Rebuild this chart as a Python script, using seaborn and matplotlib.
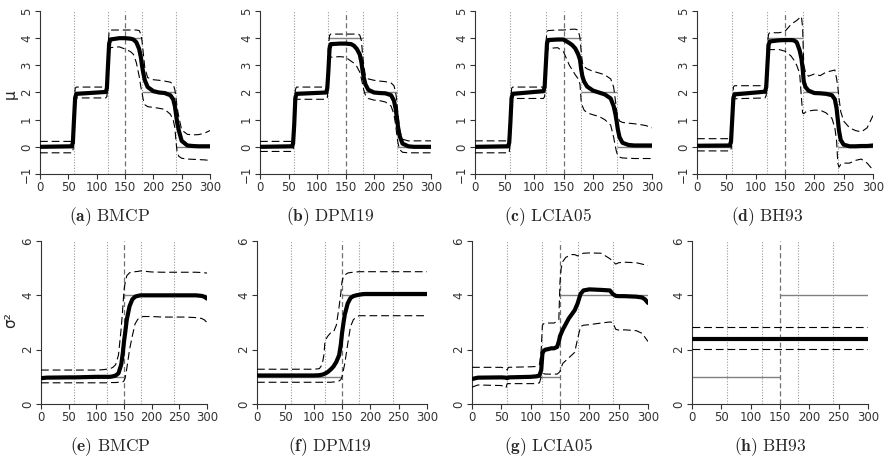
import numpy as np
import pandas as pd
import matplotlib
matplotlib.use("Agg")
import matplotlib.pyplot as plt
import seaborn as sns

# ---------------- data ----------------
MU_X = [0, 56, 58, 60, 62, 64, 116, 118, 120, 122, 124, 140, 150, 160, 165, 170, 175, 178,
        180, 182, 185, 190, 200, 210, 220, 230, 235, 238, 240, 242, 245, 250, 260, 270, 280, 290, 300]

A_EST = [0.0, 0.02, 0.15, 1.0, 1.8, 1.95, 2.02, 2.15, 3.0, 3.8, 3.95, 4.0, 4.0, 3.98, 3.95, 3.85, 3.6, 3.3,
         3.0, 2.75, 2.45, 2.2, 2.05, 2.0, 1.98, 1.9, 1.75, 1.5, 1.2, 0.9, 0.6, 0.22, 0.05, 0.03, 0.02, 0.02, 0.02]
A_HI = [0.2, 0.2, 0.25, 1.4, 2.15, 2.2, 2.2, 2.3, 3.7, 4.25, 4.3, 4.3, 4.3, 4.3, 4.3, 4.3, 4.28, 4.15,
        3.9, 3.5, 2.9, 2.55, 2.47, 2.45, 2.42, 2.38, 2.3, 2.1, 1.8, 1.45, 1.1, 0.62, 0.46, 0.44, 0.45, 0.5, 0.6]
A_LO = [-0.22, -0.22, -0.2, 0.4, 1.75, 1.8, 1.8, 1.85, 2.4, 3.5, 3.65, 3.68, 3.6, 3.5, 3.4, 3.1, 2.6, 2.2,
        2.0, 1.75, 1.55, 1.48, 1.45, 1.42, 1.38, 1.2, 1.0, 0.7, 0.2, -0.2, -0.35, -0.42, -0.45, -0.46, -0.47, -0.48, -0.5]

B_EST = [0.0, 0.02, 0.12, 0.8, 1.8, 1.95, 2.0, 2.15, 2.8, 3.6, 3.78, 3.8, 3.8, 3.78, 3.72, 3.6, 3.4, 3.1,
         2.8, 2.55, 2.3, 2.1, 2.0, 1.98, 1.97, 1.9, 1.7, 1.4, 1.1, 0.75, 0.4, 0.12, 0.02, 0.0, 0.0, 0.0, 0.0]
B_HI = [0.2, 0.2, 0.22, 1.2, 2.1, 2.2, 2.2, 2.3, 3.7, 4.1, 4.15, 4.15, 4.15, 4.15, 4.15, 4.15, 4.12, 3.9,
        3.4, 3.0, 2.6, 2.5, 2.45, 2.42, 2.4, 2.35, 2.25, 2.0, 1.7, 1.2, 0.6, 0.28, 0.22, 0.22, 0.22, 0.22, 0.22]
B_LO = [-0.17, -0.17, -0.15, 0.3, 1.7, 1.75, 1.75, 1.8, 2.3, 3.2, 3.3, 3.32, 3.3, 3.15, 3.08, 2.95, 2.75, 2.5,
        2.3, 2.1, 1.9, 1.78, 1.72, 1.7, 1.65, 1.5, 1.2, 0.8, 0.45, 0.15, -0.1, -0.2, -0.22, -0.22, -0.22, -0.22, -0.22]

C_EST = [0.0, 0.02, 0.15, 0.9, 1.8, 1.95, 2.05, 2.2, 3.0, 3.8, 3.93, 3.95, 3.95, 3.82, 3.74, 3.62, 3.4, 3.2,
         2.85, 2.6, 2.4, 2.22, 2.07, 2.0, 1.93, 1.78, 1.5, 1.2, 0.95, 0.65, 0.35, 0.15, 0.07, 0.05, 0.05, 0.05, 0.05]
C_HI = [0.22, 0.22, 0.22, 1.2, 2.15, 2.2, 2.2, 2.3, 3.8, 4.25, 4.28, 4.3, 4.3, 4.32, 4.33, 4.33, 4.3, 4.0,
        3.5, 3.1, 2.95, 2.87, 2.78, 2.72, 2.65, 2.5, 2.2, 1.7, 1.35, 1.1, 0.95, 0.9, 0.87, 0.85, 0.82, 0.78, 0.7]
C_LO = [-0.22, -0.22, -0.22, 0.3, 1.75, 1.78, 1.78, 1.85, 2.5, 3.5, 3.62, 3.65, 3.5, 3.0, 2.83, 2.65, 2.5, 2.3,
        1.65, 1.5, 1.35, 1.25, 1.18, 1.12, 1.0, 0.8, 0.35, 0.0, -0.2, -0.3, -0.38, -0.41, -0.42, -0.43, -0.43, -0.43, -0.43]

D_EST = [0.04, 0.05, 0.2, 1.0, 1.8, 1.93, 2.03, 2.2, 3.0, 3.75, 3.88, 3.92, 3.93, 3.93, 3.92, 3.85, 3.55, 3.25,
         2.9, 2.4, 2.2, 2.07, 1.98, 1.97, 1.95, 1.9, 1.75, 1.4, 1.0, 0.6, 0.25, 0.08, 0.02, 0.02, 0.03, 0.03, 0.05]
D_HI = [0.3, 0.3, 0.35, 1.3, 2.2, 2.25, 2.25, 2.35, 3.8, 4.15, 4.2, 4.2, 4.25, 4.5, 4.58, 4.65, 4.75, 4.8,
        4.4, 3.0, 2.75, 2.6, 2.68, 2.62, 2.75, 2.8, 2.83, 2.5, 2.2, 1.8, 1.3, 0.95, 0.7, 0.6, 0.55, 0.7, 1.15]
D_LO = [-0.15, -0.15, -0.12, 0.5, 1.75, 1.77, 1.8, 1.9, 2.6, 3.5, 3.58, 3.58, 3.52, 3.35, 3.2, 3.0, 2.7, 1.8,
        1.25, 1.22, 1.28, 1.32, 1.35, 1.35, 1.25, 1.05, 0.7, 0.2, -0.6, -0.75, -0.65, -0.6, -0.6, -0.5, -0.45, -0.6, -0.85]

SIG_X = [0, 10, 50, 58, 60, 62, 100, 110, 115, 118, 120, 122, 125, 130, 135, 140, 145, 148, 150, 152,
         155, 160, 165, 170, 175, 180, 185, 190, 200, 220, 235, 240, 245, 250, 260, 280, 290, 295, 300]

E_EST = [0.95, 0.97, 0.98, 0.98, 0.98, 0.98, 1.0, 1.0, 1.0, 1.0, 1.0, 1.0, 1.0, 1.02, 1.05, 1.13, 1.45, 1.9, 2.3, 2.6,
         3.1, 3.6, 3.85, 3.95, 3.98, 4.0, 4.0, 4.0, 4.0, 4.0, 4.0, 4.0, 4.0, 4.0, 4.0, 4.0, 3.98, 3.95, 3.88]
E_HI = [1.25, 1.25, 1.25, 1.25, 1.25, 1.25, 1.25, 1.26, 1.27, 1.28, 1.28, 1.29, 1.3, 1.35, 1.45, 1.8, 2.8, 3.6, 4.2, 4.45,
        4.72, 4.83, 4.86, 4.87, 4.88, 4.9, 4.89, 4.88, 4.86, 4.85, 4.85, 4.85, 4.85, 4.85, 4.85, 4.85, 4.84, 4.83, 4.82]
E_LO = [0.78, 0.78, 0.78, 0.78, 0.78, 0.78, 0.78, 0.78, 0.78, 0.78, 0.78, 0.79, 0.79, 0.79, 0.79, 0.8, 0.8, 0.82, 0.85, 0.95,
        1.3, 2.0, 2.5, 2.95, 3.12, 3.2, 3.22, 3.22, 3.22, 3.2, 3.2, 3.2, 3.2, 3.2, 3.2, 3.18, 3.15, 3.1, 3.0]

F_EST = [1.05, 1.05, 1.05, 1.05, 1.05, 1.05, 1.05, 1.06, 1.08, 1.1, 1.12, 1.14, 1.18, 1.27, 1.38, 1.55, 1.8, 2.2, 2.6, 2.9,
         3.3, 3.7, 3.9, 3.97, 4.0, 4.02, 4.04, 4.05, 4.05, 4.05, 4.05, 4.05, 4.05, 4.05, 4.05, 4.05, 4.05, 4.05, 4.05]
F_HI = [1.28, 1.28, 1.28, 1.28, 1.28, 1.28, 1.28, 1.3, 1.45, 1.8, 2.3, 2.4, 2.5, 2.62, 2.65, 2.9, 3.6, 4.1, 4.5, 4.65,
        4.75, 4.82, 4.84, 4.85, 4.86, 4.87, 4.87, 4.87, 4.87, 4.87, 4.87, 4.87, 4.87, 4.87, 4.87, 4.87, 4.87, 4.87, 4.87]
F_LO = [0.8, 0.8, 0.8, 0.8, 0.8, 0.8, 0.8, 0.8, 0.8, 0.8, 0.8, 0.8, 0.8, 0.8, 0.81, 0.82, 0.85, 0.9, 1.0, 1.2,
        1.5, 2.2, 2.85, 3.1, 3.2, 3.25, 3.25, 3.25, 3.25, 3.25, 3.25, 3.25, 3.25, 3.25, 3.25, 3.25, 3.25, 3.25, 3.25]

G_EST = [0.92, 0.97, 0.98, 0.97, 0.95, 0.98, 1.0, 1.02, 1.05, 1.25, 1.85, 1.95, 2.0, 2.02, 2.05, 2.05, 2.1, 2.3, 2.5, 2.6,
         2.75, 2.95, 3.15, 3.3, 3.45, 3.7, 4.05, 4.18, 4.22, 4.2, 4.18, 4.05, 3.98, 3.97, 3.97, 3.95, 3.92, 3.85, 3.72]
G_HI = [1.35, 1.35, 1.35, 1.3, 1.25, 1.35, 1.37, 1.38, 1.45, 2.0, 2.9, 2.95, 2.98, 2.98, 2.98, 2.98, 3.05, 3.1, 4.5, 5.0,
        5.25, 5.4, 5.45, 5.5, 5.5, 5.45, 5.52, 5.55, 5.56, 5.55, 5.35, 5.25, 5.15, 5.2, 5.22, 5.2, 5.15, 5.12, 5.1]
G_LO = [0.62, 0.7, 0.68, 0.6, 0.75, 0.75, 0.75, 0.75, 0.78, 1.0, 1.1, 1.12, 1.1, 1.1, 1.1, 1.1, 1.1, 1.15, 1.2, 1.35,
        1.5, 1.6, 1.7, 1.8, 1.9, 2.4, 2.85, 2.9, 2.92, 2.98, 3.02, 3.0, 2.75, 2.72, 2.73, 2.7, 2.6, 2.45, 2.3]

H_X = [0, 300]
H_EST = [2.4, 2.4]
H_HI = [2.82, 2.82]
H_LO = [2.02, 2.02]

MU_TRUE_BREAKS = [0, 60, 120, 180, 240, 300]
MU_TRUE_LEVELS = [0, 2, 4, 2, 0]
SIG_TRUE_BREAKS = [0, 150, 300]
SIG_TRUE_LEVELS = [1, 4]

CHANGE_POINTS = [60, 120, 180, 240]
MIDPOINT = 150

X_TICKS = [0, 50, 100, 150, 200, 250, 300]
MU_TICKS = [-1, 0, 1, 2, 3, 4, 5]
SIG_TICKS = [0, 2, 4, 6]

LETTERS = ["a", "b", "c", "d", "e", "f", "g", "h"]
METHODS = ["BMCP", "DPM19", "LCIA05", "BH93", "BMCP", "DPM19", "LCIA05", "BH93"]

# ---------------- figure ----------------
sns.set_style("ticks")
plt.rcParams["font.family"] = ["DejaVu Sans"]
plt.rcParams["mathtext.fontset"] = "cm"

W, H = 886, 461
fig = plt.figure(figsize=(W / 100, H / 100), dpi=100)


def rect(x0, x1, ytop, ybot):
    return [x0 / W, 1 - ybot / H, (x1 - x0) / W, (ybot - ytop) / H]


top_boxes = [(40, 210), (260, 431), (475, 652), (697, 873)]
bot_boxes = [(41, 207), (257, 427), (472, 648), (692, 868)]
caption_x = [110, 330, 548, 767, 110, 330, 548, 770]

panels = [
    (MU_X, A_EST, A_HI, A_LO), (MU_X, B_EST, B_HI, B_LO),
    (MU_X, C_EST, C_HI, C_LO), (MU_X, D_EST, D_HI, D_LO),
    (SIG_X, E_EST, E_HI, E_LO), (SIG_X, F_EST, F_HI, F_LO),
    (SIG_X, G_EST, G_HI, G_LO), (H_X, H_EST, H_HI, H_LO),
]

for i, (xs, est, hi, lo) in enumerate(panels):
    top = i < 4
    if top:
        x0, x1 = top_boxes[i]
        ax = fig.add_axes(rect(x0, x1, 11, 174))
    else:
        x0, x1 = bot_boxes[i - 4]
        ax = fig.add_axes(rect(x0, x1, 241, 404))

    for cp in CHANGE_POINTS:
        ax.axvline(cp, color="#9a9a9a", lw=0.8, linestyle=(0, (1, 1.5)), zorder=1)
    ax.axvline(MIDPOINT, color="#707070", lw=0.9, linestyle=(0, (4, 2.5)), zorder=1)

    if top:
        brk, lev = MU_TRUE_BREAKS, MU_TRUE_LEVELS
    else:
        brk, lev = SIG_TRUE_BREAKS, SIG_TRUE_LEVELS
    ax.hlines(lev, brk[:-1], brk[1:], color="#808080", lw=1.0, zorder=2)

    df = pd.DataFrame({"x": xs, "est": est, "hi": hi, "lo": lo})
    sns.lineplot(data=df, x="x", y="hi", ax=ax, color="black", lw=0.8,
                 linestyle=(0, (7, 3.5)), estimator=None, sort=False, zorder=3)
    sns.lineplot(data=df, x="x", y="lo", ax=ax, color="black", lw=0.8,
                 linestyle=(0, (7, 3.5)), estimator=None, sort=False, zorder=3)
    sns.lineplot(data=df, x="x", y="est", ax=ax, color="black", lw=3.0,
                 estimator=None, sort=False, zorder=4, solid_capstyle="round")

    ax.set_xlim(0, 300)
    ax.set_xticks(X_TICKS)
    if top:
        ax.set_ylim(-1, 5)
        ax.set_yticks(MU_TICKS)
    else:
        ax.set_ylim(0, 6)
        ax.set_yticks(SIG_TICKS)
    ax.set_xlabel("")
    ax.set_ylabel("")
    for s in ["top", "right"]:
        ax.spines[s].set_visible(False)
    for s in ["left", "bottom"]:
        ax.spines[s].set_linewidth(0.8)
        ax.spines[s].set_color("#333333")
    ax.tick_params(axis="both", direction="out", length=3.5, width=0.8, color="#333333",
                   labelsize=8.5, labelcolor="#333333", pad=1.5)
    ax.tick_params(axis="y", labelrotation=90)
    for lab in ax.get_yticklabels():
        lab.set_va("center")
    ax.patch.set_alpha(0)

    cy = 217 if top else 447
    fig.text(caption_x[i] / W, 1 - cy / H,
             r"$\mathbf{(" + LETTERS[i] + r")}$ $\mathrm{" + METHODS[i] + r"}$",
             ha="center", va="center", fontsize=12.5)

fig.text(10 / W, 1 - 94 / H, "μ", rotation=90, ha="center", va="center", fontsize=11)
fig.text(11 / W, 1 - 320 / H, "σ²", rotation=90, ha="center", va="center", fontsize=11)

fig.savefig("out.png", dpi=100)
